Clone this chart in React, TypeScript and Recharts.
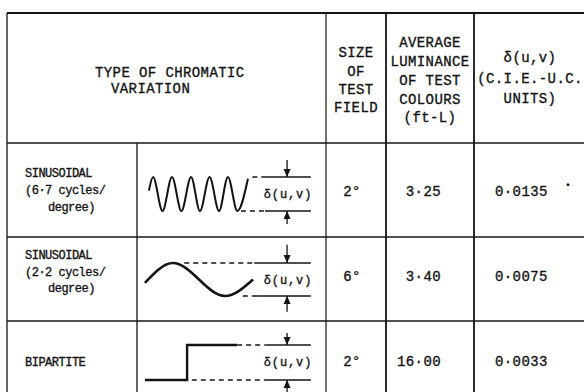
import React from "react";
import { LineChart, Line, XAxis, YAxis, ReferenceLine, ReferenceDot } from "recharts";

// row contents
const typeLabels = [
  ["SINUSOIDAL", "(6·7 cycles/", "degree)"],
  ["SINUSOIDAL", "(2·2 cycles/", "degree)"],
  ["BIPARTITE"],
];
const fieldSizes = ["2°", "6°", "2°"];
const luminances = ["3·25", "3·40", "16·00"];
const deltas = ["0·0135", "0·0075", "0·0033"];

// waveform sketches: t = position across the cell (0-100), v = level (0 trough, 1 peak)
const wave67 = [
  { t: 6.3, v: 0.6 },
  { t: 8.5, v: 1 },
  { t: 13.5, v: 0 },
  { t: 18.5, v: 1 },
  { t: 23.5, v: 0 },
  { t: 28.6, v: 1 },
  { t: 33.3, v: 0 },
  { t: 38.4, v: 1 },
  { t: 43.4, v: 0 },
  { t: 48.1, v: 1 },
  { t: 53.1, v: 0 },
  { t: 58.7, v: 0.95 },
];
const wave22 = [
  { t: 4.2, v: 0.4 },
  { t: 19.0, v: 1 },
  { t: 46.6, v: 0 },
  { t: 61.4, v: 0.5 },
];
const bipartite = [
  { t: 4.2, v: 0 },
  { t: 26.5, v: 1 },
  { t: 52.9, v: 1 },
];

const INK = "#141414";
const FONT = "'Liberation Mono', 'DejaVu Sans Mono', monospace";

const rows = [
  { top: 143, bottom: 237, hi: 177, lo: 211, data: wave67, curve: "monotone", sw: 2,
    topDash: [61, 67.7], botDash: [55, 67.7], arrowTop: 1.5, arrowBot: -0.38, labelY: 194, textY: [173, 190, 207], valueY: 192 },
  { top: 237, bottom: 321, hi: 263, lo: 296, data: wave22, curve: "monotone", sw: 2.6,
    topDash: [25, 62], botDash: [56, 63.5], arrowTop: 1.55, arrowBot: -0.48, labelY: 280, textY: [255, 272, 288], valueY: 277 },
  { top: 321, bottom: 392, hi: 345, lo: 380, data: bipartite, curve: "stepAfter", sw: 2.4,
    topDash: [53, 68], botDash: [29, 68], arrowTop: 1.34, arrowBot: -0.34, labelY: 362, textY: [362], valueY: 362 },
];

const downHead = (p: any) => (
  <path d={`M${p.cx - 3.5},${p.cy - 8}L${p.cx + 3.5},${p.cy - 8}L${p.cx},${p.cy}Z`} fill={INK} />
);
const upHead = (p: any) => (
  <path d={`M${p.cx - 3.5},${p.cy + 8}L${p.cx + 3.5},${p.cy + 8}L${p.cx},${p.cy}Z`} fill={INK} />
);

const WaveCell = ({ row }: any) => {
  const h = row.bottom - row.top;
  const arrowX = 79.4;
  return (
    <div style={{ position: "absolute", left: 137, top: row.top }}>
      <LineChart
        width={189}
        height={h}
        data={row.data}
        margin={{ top: row.hi - row.top, bottom: row.bottom - row.lo, left: 0, right: 0 }}
      >
        <XAxis dataKey="t" type="number" domain={[0, 100]} hide />
        <YAxis type="number" domain={[0, 1]} hide />
        <ReferenceLine segment={[{ x: row.topDash[0], y: 1 }, { x: row.topDash[1], y: 1 }]}
          stroke={INK} strokeWidth={1.4} strokeDasharray="5 4" ifOverflow="visible" />
        <ReferenceLine segment={[{ x: row.topDash[1], y: 1 }, { x: 92, y: 1 }]}
          stroke={INK} strokeWidth={1.6} ifOverflow="visible" />
        <ReferenceLine segment={[{ x: row.botDash[0], y: 0 }, { x: row.botDash[1], y: 0 }]}
          stroke={INK} strokeWidth={1.4} strokeDasharray="5 4" ifOverflow="visible" />
        <ReferenceLine segment={[{ x: row.botDash[1], y: 0 }, { x: 92, y: 0 }]}
          stroke={INK} strokeWidth={1.6} ifOverflow="visible" />
        <ReferenceLine segment={[{ x: arrowX, y: row.arrowTop }, { x: arrowX, y: 1 }]}
          stroke={INK} strokeWidth={1.3} ifOverflow="visible" />
        <ReferenceLine segment={[{ x: arrowX, y: row.arrowBot }, { x: arrowX, y: 0 }]}
          stroke={INK} strokeWidth={1.3} ifOverflow="visible" />
        <ReferenceDot x={arrowX} y={1} r={0} ifOverflow="visible" shape={downHead} />
        <ReferenceDot x={arrowX} y={0} r={0} ifOverflow="visible" shape={upHead} />
        <Line
          dataKey="v"
          type={row.curve}
          stroke={INK}
          strokeWidth={row.sw}
          dot={false}
          activeDot={false}
          isAnimationActive={false}
        />
      </LineChart>
    </div>
  );
};

const T = ({ x, y, anchor = "middle", size = 14, ls = 0.4, children }: any) => (
  <text x={x} y={y + size * 0.32} textAnchor={anchor} fontSize={size} letterSpacing={ls}
    fontFamily={FONT} fill={INK} stroke={INK} strokeWidth={0.35}>
    {children}
  </text>
);

export default function App() {
  return (
    <div style={{ position: "absolute", left: 0, top: 0, width: 584, height: 392, background: "#fff", overflow: "hidden" }}>
      <svg width={584} height={392} style={{ position: "absolute", left: 0, top: 0 }}>
        {/* table rules */}
        <line x1={7} x2={584} y1={13} y2={13} stroke={INK} strokeWidth={2} />
        <line x1={7} x2={7} y1={13} y2={392} stroke={INK} strokeWidth={1.3} />
        {[143, 237, 321].map((y) => (
          <line key={y} x1={7} x2={584} y1={y} y2={y} stroke={INK} strokeWidth={1.6} />
        ))}
        <line x1={137} x2={137} y1={143} y2={392} stroke={INK} strokeWidth={1.3} />
        <line x1={326} x2={326} y1={13} y2={392} stroke={INK} strokeWidth={1.2} />
        <line x1={386} x2={386} y1={13} y2={392} stroke={INK} strokeWidth={1.8} />
        <line x1={474} x2={474} y1={13} y2={392} stroke={INK} strokeWidth={1.8} />

        {/* header */}
        <T x={95} y={73} anchor="start">TYPE OF CHROMATIC</T>
        <T x={111} y={89} anchor="start">VARIATION</T>
        {["SIZE", "OF", "TEST", "FIELD"].map((s, i) => (
          <T key={s} x={356} y={53 + i * 18.3}>{s}</T>
        ))}
        {["AVERAGE", "LUMINANCE", "OF TEST", "COLOURS", "(ft-L)"].map((s, i) => (
          <T key={s} x={430} y={43 + i * 18.7}>{s}</T>
        ))}
        {["δ(u,v)", "(C.I.E.-U.C.", "UNITS)"].map((s, i) => (
          <T key={s} x={530} y={58 + i * 20.5}>{s}</T>
        ))}

        {/* body */}
        {rows.map((row, r) => (
          <g key={r}>
            {typeLabels[r].map((s, i) => (
              <T key={i} x={i === 2 ? 48 : 25} y={row.textY[i]} anchor="start" size={12} ls={-0.5}>{s}</T>
            ))}
            <T x={288} y={row.labelY} size={12} ls={0.9}>δ(u,v)</T>
            <T x={352} y={row.valueY}>{fieldSizes[r]}</T>
            <T x={441} y={row.valueY} anchor="end">{luminances[r]}</T>
            <T x={495} y={row.valueY} anchor="start">{deltas[r]}</T>
          </g>
        ))}
        <T x={568} y={185} size={9} ls={0}>•</T>
      </svg>
      {rows.map((row, r) => (
        <WaveCell key={r} row={row} />
      ))}
    </div>
  );
}
